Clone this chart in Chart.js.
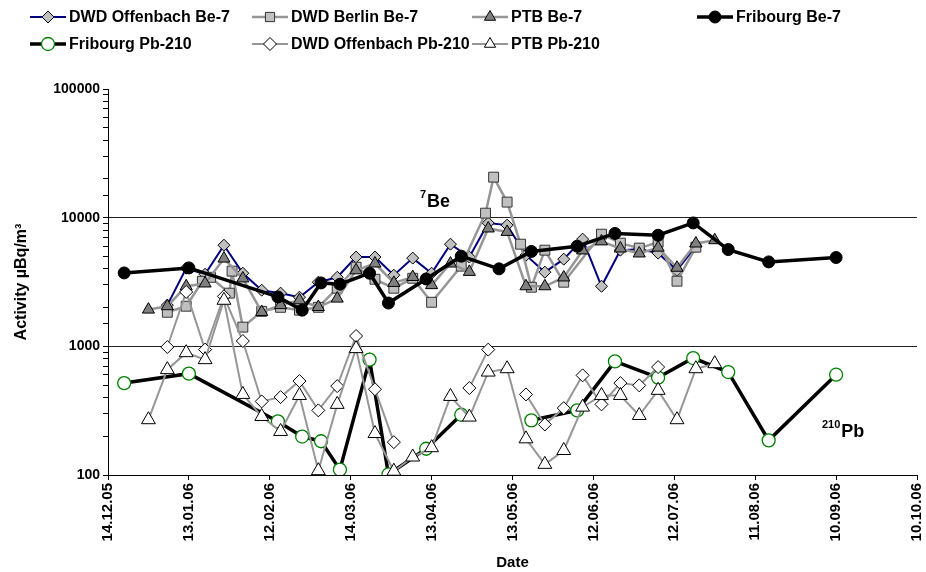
<!DOCTYPE html>
<html>
<head>
<meta charset="utf-8">
<script src="https://cdn.jsdelivr.net/npm/chart.js@4.4.1/dist/chart.umd.min.js"></script>
<style>
  html, body { margin: 0; padding: 0; background: #fff; }
  #wrap { position: relative; width: 926px; height: 572px; }
</style>
</head>
<body>
<div id="wrap"><canvas id="chart" width="926" height="572"></canvas></div>
<script>
// days are counted from 14.12.05
const startDate = Date.UTC(2005, 11, 14);

const ptbDays = [15, 22, 29, 36, 43, 50, 57, 64, 71, 78, 85, 92, 99, 106, 113, 120, 127, 134, 141, 148, 155, 162, 169, 176, 183, 190, 197, 204, 211, 218, 225];
const ptbBe = [1930, 2050, 2930, 3080, 4810, 3370, 1850, 2090, 2280, 2020, 2350, 3900, 4400, 3110, 3460, 2990, 4400, 3790, 8240, 7750, 2930, 2930, 3430, 5560, 6540, 5760, 5270, 5850, 4080, 6300, 6680];
const ptbPb = [269, 659, 893, 788, 2280, 423, 285, 218, 415, 108, 354, 960, 210, 107, 138, 163, 408, 282, 631, 670, 191, 121, 155, 337, 415, 415, 290, 455, 269, 670, 733];

const offBeDays = [22, 29, 36, 43, 50, 57, 64, 71, 78, 85, 92, 99, 106, 113, 120, 127, 134, 141, 148, 155, 162, 169, 176, 183, 190, 197, 204, 211, 218];
const offBe = [2090, 4050, 3630, 6110, 3700, 2730, 2590, 2410, 3150, 3440, 4940, 4940, 3570, 4850, 3700, 6220, 4940, 9080, 8750, 5110, 3770, 4760, 6810, 2930, 5590, 5690, 5300, 3900, 6000];

const offPbDays = [22, 29, 36, 43, 50, 57, 64, 71, 78, 85, 92, 99, 106, 113, 120, 127, 134, 141, 148, 155, 162, 169, 176, 183, 190, 197, 204];
const offPb = [988, 2646, 943, 2449, 1100, 373, 403, 537, 318, 491, 1203, 464, 180, null, null, null, 474, 943, null, 423, 247, 331, 595, 354, 518, 497, 690];

const berlinDays = [22, 29, 35, 38, 45, 46, 50, 57, 64, 71, 78, 85, 92, 99, 106, 113, 120, 131, 140, 143, 148, 153, 157, 162, 169, 183, 190, 197, 204, 211, 218];
const berlinBe = [1840, 2050, 3200, 3440, 2590, 3840, 1410, 1870, 2010, 1910, 2010, 2830, 4120, 3320, 2830, 3380, 2200, 4200, 10840, 20650, 13210, 6220, 2880, 5590, 3150, 7440, 6340, 5800, 6450, 3210, 5900];

const frDays = [6, 30, 63, 72, 79, 86, 97, 104, 118, 131, 145, 157, 174, 188, 204, 217, 230, 245, 270];
const frBe = [3720, 4070, 2420, 1910, 3110, 3040, 3700, 2170, 3340, 5020, 4000, 5460, 6000, 7540, 7300, 9100, 5650, 4530, 4900];
const frPb = [518, 613, 261, 199, 183, 110, 788, 101, 160, 294, null, 266, 318, 764, 571, 811, 631, 186, 602];

const FONT = 'Arial, "Liberation Sans", sans-serif';
const grey = '#969696';

function pts(days, vals) {
  return days.map((d, i) => ({ x: d, y: vals[i] }));
}

function dayLabel(v) {
  const d = new Date(startDate + v * 86400000);
  const p = n => String(n).padStart(2, '0');
  return p(d.getUTCDate()) + '.' + p(d.getUTCMonth() + 1) + '.' + p(d.getUTCFullYear() % 100);
}

const datasets = [
  { label: 'DWD Offenbach Be-7', data: pts(offBeDays, offBe), borderColor: '#000080', borderWidth: 2,
    pointStyle: 'rectRot', pointRadius: 6, pointBackgroundColor: '#c0c0c0', pointBorderColor: '#000', pointBorderWidth: 1 },
  { label: 'DWD Berlin Be-7', data: pts(berlinDays, berlinBe), borderColor: grey, borderWidth: 2.5,
    pointStyle: 'rect', pointRadius: 7, pointBackgroundColor: '#c0c0c0', pointBorderColor: '#333', pointBorderWidth: 1 },
  { label: 'PTB Be-7', data: pts(ptbDays, ptbBe), borderColor: grey, borderWidth: 2.5,
    pointStyle: 'triangle', pointRadius: 7, pointBackgroundColor: '#808080', pointBorderColor: '#000', pointBorderWidth: 1 },
  { label: 'Fribourg Be-7', data: pts(frDays, frBe), borderColor: '#000', borderWidth: 3.5,
    pointStyle: 'circle', pointRadius: 6, pointBackgroundColor: '#000', pointBorderColor: '#000', pointBorderWidth: 1 },
  { label: 'Fribourg Pb-210', data: pts(frDays, frPb), borderColor: '#000', borderWidth: 3.5,
    pointStyle: 'circle', pointRadius: 6.5, pointBackgroundColor: '#fff', pointBorderColor: '#008000', pointBorderWidth: 1.3 },
  { label: 'DWD Offenbach Pb-210', data: pts(offPbDays, offPb), borderColor: grey, borderWidth: 2,
    pointStyle: 'rectRot', pointRadius: 6.5, pointBackgroundColor: '#fff', pointBorderColor: '#000', pointBorderWidth: 1 },
  { label: 'PTB Pb-210', data: pts(ptbDays, ptbPb), borderColor: grey, borderWidth: 2,
    pointStyle: 'triangle', pointRadius: 8, pointBackgroundColor: '#fff', pointBorderColor: '#000', pointBorderWidth: 1 }
];
// later series sit on top, like the original
datasets.forEach((ds, i) => { ds.order = datasets.length - i; ds.spanGaps = false; ds.tension = 0; ds.fill = false; });

const legendSpots = [[30, 17], [252, 17], [472, 17], [697, 17], [30, 44], [252, 44], [472, 44]];

const legendPlugin = {
  id: 'sheetLegend',
  afterDraw(chart) {
    const ctx = chart.ctx;
    ctx.save();
    datasets.forEach((ds, i) => {
      const [x, y] = legendSpots[i];
      ctx.strokeStyle = ds.borderColor;
      ctx.lineWidth = ds.borderWidth;
      ctx.beginPath();
      ctx.moveTo(x, y);
      ctx.lineTo(x + 36, y);
      ctx.stroke();
      ctx.fillStyle = ds.pointBackgroundColor;
      ctx.strokeStyle = ds.pointBorderColor;
      ctx.lineWidth = ds.pointBorderWidth;
      Chart.helpers.drawPoint(ctx, { pointStyle: ds.pointStyle, radius: Math.min(ds.pointRadius, 6.5), rotation: 0, borderWidth: ds.pointBorderWidth }, x + 18, y);
      ctx.fillStyle = '#000';
      ctx.font = 'bold 16px ' + FONT;
      ctx.textBaseline = 'middle';
      ctx.textAlign = 'left';
      ctx.fillText(ds.label, x + 39, y + 1);
    });

    // isotope labels inside the plot
    const iso = (sup, main, x, y) => {
      ctx.font = 'bold 11px ' + FONT;
      ctx.textBaseline = 'alphabetic';
      ctx.fillText(sup, x, y - 9);
      const w = ctx.measureText(sup).width;
      ctx.font = 'bold 18px ' + FONT;
      ctx.fillText(main, x + w + 1, y);
    };
    iso('7', 'Be', 420, 207);
    iso('210', 'Pb', 822, 437);
    ctx.restore();
  }
};

new Chart(document.getElementById('chart'), {
  type: 'line',
  data: { datasets },
  options: {
    responsive: false,
    animation: false,
    layout: { padding: { top: 89, right: 4, left: 0, bottom: 0 } },
    plugins: { legend: { display: false }, tooltip: { enabled: false } },
    scales: {
      x: {
        type: 'linear', min: 0, max: 300,
        afterFit: s => { s.height = 97; s.paddingLeft = 0; s.paddingRight = 0; },
        afterBuildTicks: s => { s.ticks = Array.from({ length: 11 }, (_, i) => ({ value: i * 30 })); },
        border: { color: '#000', width: 1 },
        grid: { drawOnChartArea: false, color: '#000', tickLength: 5 },
        ticks: { autoSkip: false, minRotation: 90, maxRotation: 90, padding: 3, color: '#000',
          font: { family: FONT, size: 15, weight: 'bold' }, callback: v => dayLabel(v) },
        title: { display: true, text: 'Date', color: '#000', padding: { top: 2, bottom: 0 },
          font: { family: FONT, size: 15, weight: 'bold' } }
      },
      y: {
        type: 'logarithmic', min: 100, max: 100000,
        afterFit: s => { s.width = 108; },
        border: { color: '#000', width: 1 },
        grid: {
          color: c => (c.tick && (c.tick.value === 1000 || c.tick.value === 10000)) ? '#222' : 'rgba(0,0,0,0)',
          tickColor: '#000', tickLength: 5, lineWidth: 1
        },
        ticks: { autoSkip: false, padding: 3, color: '#000',
          font: { family: FONT, size: 14, weight: 'bold' },
          callback: v => { const l = Math.log10(v); return Math.abs(l - Math.round(l)) < 1e-9 ? String(v) : ''; } },
        title: { display: true, text: 'Activity µBq/m³', color: '#000', padding: { top: 12, bottom: 0 },
          font: { family: FONT, size: 16, weight: 'bold' } }
      }
    }
  },
  plugins: [legendPlugin]
});
</script>
</body>
</html>
